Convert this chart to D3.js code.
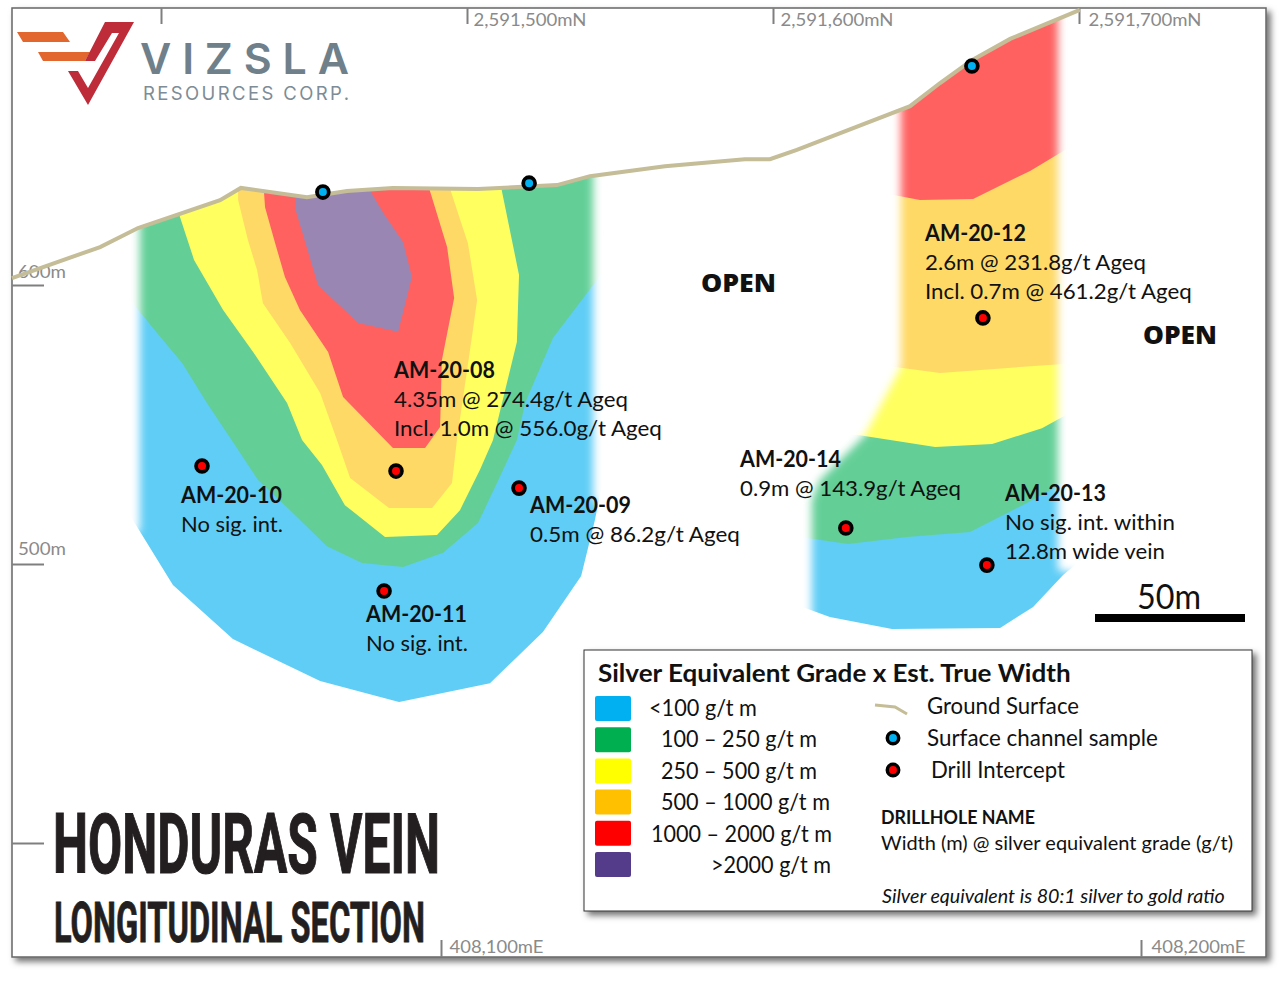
<!DOCTYPE html>
<html>
<head>
<meta charset="utf-8">
<title>Honduras Vein Longitudinal Section</title>
<script src="https://d3js.org/d3.v7.min.js"></script>
<style>
    html, body { margin: 0; padding: 0; background: #fff; }
    svg { display: block; }
    text { font-family: Lato, "Open Sans", sans-serif; fill: #111; }
    .axis text { font-size: 18px; fill: #8a8a8a; }
    .axis line { stroke: #7f7f7f; stroke-width: 2; }
    .axis path { display: none; }
    .hole { font-size: 22px; font-weight: 700; }
    .result { font-size: 22px; }
    .scale-label { font-size: 34px; }
    .open { font-family: "Open Sans", sans-serif; font-size: 24px; font-weight: 800; }
    .legend-title { font-size: 25px; font-weight: 700; }
    .legend-item { font-size: 23px; }
    .legend-head { font-size: 19px; font-weight: 700; }
    .legend-note { font-size: 19px; }
    .legend-italic { font-size: 19px; font-style: italic; }
    .title { font-family: "Liberation Sans Narrow", "Roboto", sans-serif; font-weight: 700; fill: #231f20; stroke: #231f20; }
    .title-big { font-size: 84px; stroke-width: 1.2; }
    .title-small { font-size: 56px; stroke-width: 0.8; }
    .logo-big { font-family: Inter, Lato, sans-serif; font-size: 43px; font-weight: 600; fill: #6f808b; }
    .logo-small { font-family: Inter, Lato, sans-serif; font-size: 18.5px; fill: #7d8c96; }
</style>
</head>
<body>
<svg id="chart" width="1280" height="994"></svg>
<script>
// all section points are [northing - 2,591,000 m, elevation m]
const groundSurface = [[351.3,602.5],[380.1,613.6],[392.5,620.4],[419.3,630.4],[426.1,634.8],[447.7,631.5],[460.8,633.7],[475.8,634.8],[503.6,634.4],[529.4,635.8],[540.2,639.0],[564.7,642.6],[590.8,645.1],[599.0,645.1],[607.8,648.4],[644.8,664.1],[654.6,672.4],[665.0,680.6],[677.5,688.2],[700.3,698.6]];

// left lens, lowest grade first
const leftBlue = [[388.2,594.6],[388.2,520.1],[390.8,515.8],[403.9,492.5],[423.5,473.1],[452.0,458.1],[477.8,450.5],[507.5,457.3],[524.8,475.6],[537.3,495.7],[541.8,515.8],[545.1,533.7],[545.1,612.5]];
const leftGreen = [[388.2,648.4],[388.2,597.1],[390.8,593.5],[398.7,582.8],[406.9,572.0],[415.0,557.7],[424.2,542.6],[431.7,530.1],[443.1,518.3],[454.2,506.4],[465.7,500.4],[479.1,498.9],[492.2,504.0],[503.6,514.7],[509.8,529.0],[516.3,544.4],[519.0,557.7],[528.1,581.0],[544.4,604.6],[545.1,648.4]];
const leftYellow = [[403.6,633.3],[406.2,624.4],[410.8,609.0],[420.3,591.0],[430.1,576.0],[441.2,557.7],[446.1,544.4],[452.6,535.5],[460.1,521.1],[473.2,509.7],[490.2,510.4],[497.7,519.3],[504.2,533.7],[508.5,544.4],[516.3,579.6],[517.0,603.6],[511.4,633.7],[510.8,641.2]];
const leftOrange = [[425.2,641.2],[425.2,630.5],[428.4,616.1],[431.4,605.4],[433.3,593.5],[442.2,579.2],[452.0,561.3],[457.5,544.4],[461.8,530.8],[474.5,520.1],[488.6,520.1],[495.1,529.0],[496.7,544.4],[501.6,581.4],[503.3,594.6],[500.3,615.0],[494.8,633.3],[492.8,641.2]];
const leftRed = [[433.7,641.2],[433.7,632.6],[434.0,627.9],[437.3,615.0],[440.5,602.9],[445.4,591.0],[454.6,576.0],[459.5,559.9],[475.8,541.6],[486.3,541.6],[491.2,549.1],[491.8,573.1],[495.8,595.3],[493.5,613.6],[487.9,633.7],[486.3,641.2]];
const leftPurple = [[444.1,641.2],[444.1,631.2],[443.8,627.6],[451.3,600.0],[464.4,586.4],[477.5,583.2],[482.0,602.9],[479.1,615.4],[472.5,626.1],[468.6,633.3],[465.0,641.2]];

// right lens
const rightBlue = [[608.8,515.8],[698.7,533.7],[698.7,499.6],[694.8,496.1],[685.0,484.6],[674.2,477.1],[638.9,476.7],[618.6,481.0],[610.5,484.2],[608.8,484.9]];
const rightGreen = [[608.8,551.6],[698.7,558.8],[698.7,531.5],[683.0,521.9],[664.4,511.5],[643.8,509.7],[624.5,507.2],[608.8,509.7]];
const rightYellow = [[625.2,580.3],[698.7,580.3],[698.7,555.2],[687.9,548.7],[671.6,543.0],[653.0,541.9],[627.8,546.2],[625.2,546.2]];
const rightOrange = [[636.6,648.4],[698.7,659.1],[698.7,572.0],[694.8,571.7],[654.6,568.5],[639.9,570.6],[636.6,571.3]];
const rightRed = [[636.6,680.6],[698.7,700.3],[698.7,650.5],[684.0,640.9],[665.4,630.8],[648.0,630.5],[639.9,632.2],[636.6,633.0]];

// soft edges of the two lenses
const leftEdge = [[393.1,702.1],[541.2,702.1],[541.2,522.9],[556.5,508.6],[556.5,429.8],[380.1,429.8],[380.1,501.4],[393.1,512.2]];
const rightEdge = [[641.8,702.1],[693.1,702.1],[693.1,497.8],[703.6,496.0],[706.8,451.3],[612.7,451.3],[612.7,522.9],[615.4,530.1],[630.1,546.2],[641.8,570.6]];

const surfaceSamples = [[452.9,633.3],[520.3,636.5],[665.0,678.5]];
const drillIntercepts = [[413.4,535.1],[476.8,533.3],[517.0,527.2],[472.9,490.3],[668.6,588.2],[623.8,512.9],[669.9,499.6]];

const northingTicks = [400, 500, 600, 700];
const elevationTicks = [600, 500, 400];
const eastingTicks = [100, 200];

const zoneColors = ['#5fcdf6', '#63cf97', '#ffff5f', '#ffd966', '#ff6161', '#9a86b3'];
const gradeColors = ['#00b0f0', '#00b050', '#ffff00', '#ffc000', '#ff0000', '#553c8b'];
const gradeLabels = ['<100 g/t m', '100 \u2013 250 g/t m', '250 \u2013 500 g/t m', '500 \u2013 1000 g/t m', '1000 \u2013 2000 g/t m', '>2000 g/t m'];

const holeNames = ['AM-20-08', 'AM-20-10', 'AM-20-09', 'AM-20-11', 'AM-20-12', 'AM-20-14', 'AM-20-13'];
const holeResults = [
    ['4.35m @ 274.4g/t Ageq', 'Incl. 1.0m @ 556.0g/t Ageq'],
    ['No sig. int.'],
    ['0.5m @ 86.2g/t Ageq'],
    ['No sig. int.'],
    ['2.6m @ 231.8g/t Ageq', 'Incl. 0.7m @ 461.2g/t Ageq'],
    ['0.9m @ 143.9g/t Ageq'],
    ['No sig. int. within', '12.8m wide vein']
];
const holeResultWidths = [[234, 268], [102], [210], [102], [221, 267], [221], [170, 160]];
const holeLabelAt = [[394, 378], [181, 503], [530, 513], [366, 622], [925, 241], [740, 467], [1005, 501]];

const svg = d3.select('#chart');
const defs = svg.append('defs');

const x = d3.scaleLinear().domain([500, 700]).range([467, 1079]);
const y = d3.scaleLinear().domain([600, 400]).range([285, 843]);
const xEast = d3.scaleLinear().domain([100, 200]).range([441, 1141]);

const line = d3.line().x(d => x(d[0])).y(d => y(d[1]));

const shadow = defs.append('filter').attr('id', 'shadow')
    .attr('x', '-5%').attr('y', '-5%').attr('width', '110%').attr('height', '110%');
shadow.append('feDropShadow').attr('dx', 4).attr('dy', 4).attr('stdDeviation', 3)
    .attr('flood-color', '#000').attr('flood-opacity', 0.55);

defs.append('filter').attr('id', 'soft')
    .attr('filterUnits', 'userSpaceOnUse').attr('x', 0).attr('y', 0).attr('width', 1280).attr('height', 994)
    .append('feGaussianBlur').attr('stdDeviation', 4.5);

[['leftMask', leftEdge], ['rightMask', rightEdge]].forEach(([id, edge]) => {
    defs.append('mask').attr('id', id)
        .attr('maskUnits', 'userSpaceOnUse').attr('x', 0).attr('y', 0).attr('width', 1280).attr('height', 994)
        .append('path')
        .attr('d', line(edge) + 'Z')
        .attr('fill', '#fff')
        .attr('filter', 'url(#soft)');
});

// everything below the ground line
defs.append('clipPath').attr('id', 'underGround')
    .append('path')
    .attr('d', line([[300, 300]].concat(groundSurface, [[760, 698.6], [760, 300]])) + 'Z');

// frame
svg.append('rect')
    .attr('x', 12).attr('y', 8).attr('width', 1254).attr('height', 949)
    .attr('fill', '#fff').attr('stroke', '#666').attr('stroke-width', 1.5)
    .attr('filter', 'url(#shadow)');

const sections = svg.append('g').attr('clip-path', 'url(#underGround)');

function drawLens(maskId, zones, colors) {
    sections.append('g')
        .attr('mask', `url(#${maskId})`)
        .selectAll('path')
        .data(zones)
        .join('path')
        .attr('d', d => line(d) + 'Z')
        .attr('fill', (d, i) => colors[i]);
}
drawLens('leftMask', [leftBlue, leftGreen, leftYellow, leftOrange, leftRed, leftPurple], zoneColors);
drawLens('rightMask', [rightBlue, rightGreen, rightYellow, rightOrange, rightRed], zoneColors);

// squeeze a text to a measured width, the box stays true to what is drawn
function fitWidth(sel, px, py, width) {
    const natural = sel.node().getComputedTextLength();
    sel.attr('x', 0).attr('y', 0).attr('dy', 0)
        .attr('transform', `translate(${px},${py}) scale(${width / natural},1)`);
}

// axes, ticks point into the frame
const topAxis = svg.append('g').attr('class', 'axis').attr('transform', 'translate(0,8)')
    .call(d3.axisTop(x).tickValues(northingTicks).tickSizeInner(-16).tickSizeOuter(0)
        .tickFormat(d => d === 400 ? '' : `2,591,${d}mN`));
topAxis.selectAll('text').attr('text-anchor', 'start').each(function (d) {
    if (d !== 400) fitWidth(d3.select(this), d === 500 ? 6 : d === 600 ? 7 : 9, 18, 113);
});

const leftAxis = svg.append('g').attr('class', 'axis').attr('transform', 'translate(12,0)')
    .call(d3.axisLeft(y).tickValues(elevationTicks).tickSizeInner(-32).tickSizeOuter(0)
        .tickFormat(d => d === 400 ? '' : `${d}m`));
leftAxis.selectAll('text').attr('text-anchor', 'start').each(function (d) {
    if (d !== 400) fitWidth(d3.select(this), 6, d === 600 ? -8 : -10, 48);
});

const bottomAxis = svg.append('g').attr('class', 'axis').attr('transform', 'translate(0,957)')
    .call(d3.axisBottom(xEast).tickValues(eastingTicks).tickSizeInner(-17).tickSizeOuter(0)
        .tickFormat(d => `408,${d}mE`));
bottomAxis.selectAll('text').attr('text-anchor', 'start').each(function (d) {
    fitWidth(d3.select(this), d === 100 ? 8 : 10, -4, 94);
});

// ground line and sample markers
svg.append('path')
    .attr('d', line(groundSurface))
    .attr('fill', 'none').attr('stroke', '#c4bd97').attr('stroke-width', 4);

function drawDots(data, color) {
    svg.append('g').selectAll('circle')
        .data(data)
        .join('circle')
        .attr('cx', d => x(d[0])).attr('cy', d => y(d[1]))
        .attr('r', 5.9)
        .attr('fill', color).attr('stroke', '#000').attr('stroke-width', 3.8);
}
drawDots(surfaceSamples, '#00b0f0');
drawDots(drillIntercepts, '#ff0000');

function addText(parent, str, px, py, cls, width) {
    const t = parent.append('text').attr('class', cls).attr('x', px).attr('y', py).text(str);
    if (width) fitWidth(t, px, py, width);
    return t;
}

// hole labels
const labels = svg.append('g');
holeNames.forEach((name, i) => {
    const [lx, ly] = holeLabelAt[i];
    addText(labels, name, lx, ly, 'hole', 101);
    holeResults[i].forEach((res, j) => {
        addText(labels, res, lx, ly + 29 * (j + 1), 'result', holeResultWidths[i][j]);
    });
});

addText(svg, 'OPEN', 701, 292, 'open', 75);
addText(svg, 'OPEN', 1143, 344, 'open', 74);

// scale bar
svg.append('rect').attr('x', 1095).attr('y', 614).attr('width', 150).attr('height', 8).attr('fill', '#000');
addText(svg, '50m', 1137, 609, 'scale-label', 64);

// logo
const logo = svg.append('g');
logo.append('path').attr('d', 'M17,32H63L70,42H23Z M38,52H90L85,61H43Z').attr('fill', '#e2672f');
logo.append('path').attr('d', 'M105,22H134L88,105L68,71H78L88,88L119,33H112L95,61H85Z').attr('fill', '#be2c3a');
addText(logo, 'VIZSLA', 140, 74, 'logo-big').attr('textLength', 209);
addText(logo, 'RESOURCES CORP.', 143, 100, 'logo-small').attr('textLength', 206);

// title
addText(svg, 'HONDURAS VEIN', 53, 873, 'title title-big', 387);
addText(svg, 'LONGITUDINAL SECTION', 54, 942, 'title title-small', 371);

// legend
const legend = svg.append('g');
legend.append('rect')
    .attr('x', 584).attr('y', 650).attr('width', 668).attr('height', 261)
    .attr('fill', '#fff').attr('stroke', '#333').attr('stroke-width', 1)
    .attr('filter', 'url(#shadow)');
addText(legend, 'Silver Equivalent Grade x Est. True Width', 598, 682, 'legend-title', 473);

const itemX = [649, 661, 661, 661, 651, 711];
const itemWidth = [108, 156, 156, 169, 181, 120];
gradeLabels.forEach((label, i) => {
    legend.append('rect')
        .attr('x', 595).attr('y', 696 + i * 31.2).attr('width', 36).attr('height', 25).attr('rx', 2)
        .attr('fill', gradeColors[i]);
    addText(legend, label, itemX[i], 716 + i * 31.4, 'legend-item', itemWidth[i]);
});

legend.append('path').attr('d', 'M875,705L895,707L907,714')
    .attr('fill', 'none').attr('stroke', '#c4bd97').attr('stroke-width', 3);
addText(legend, 'Ground Surface', 927, 714, 'legend-item', 152);
addText(legend, 'Surface channel sample', 927, 746, 'legend-item', 231);
addText(legend, 'Drill Intercept', 931, 778, 'legend-item', 134);
[[738, '#00b0f0'], [770, '#ff0000']].forEach(([cy, color]) => {
    legend.append('circle').attr('cx', 893).attr('cy', cy).attr('r', 5.7)
        .attr('fill', color).attr('stroke', '#000').attr('stroke-width', 3.5);
});
addText(legend, 'DRILLHOLE NAME', 881, 824, 'legend-head', 154);
addText(legend, 'Width (m) @ silver equivalent grade (g/t)', 881, 850, 'legend-note', 352);
addText(legend, 'Silver equivalent is 80:1 silver to gold ratio', 882, 903, 'legend-italic', 343);
</script>
</body>
</html>
